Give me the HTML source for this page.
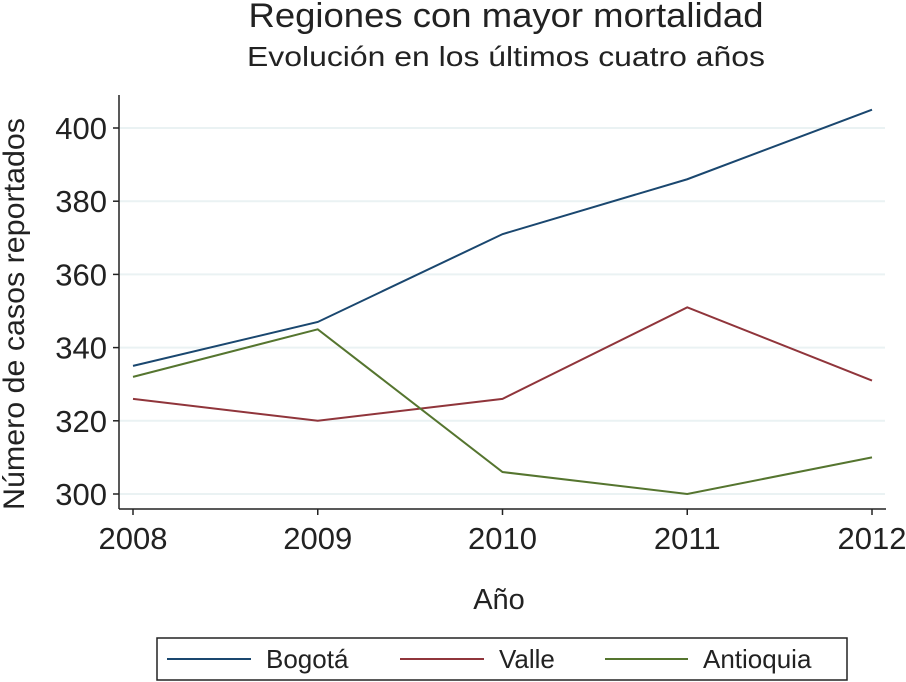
<!DOCTYPE html>
<html><head><meta charset="utf-8"><style>
html,body{margin:0;padding:0;background:#fff;}
svg{display:block;font-family:"Liberation Sans",sans-serif;}
</style></head><body>
<svg id="chart" width="906" height="682" viewBox="0 0 906 682">
<text x="506" y="27" font-size="34" text-anchor="middle" fill="#222" textLength="515" lengthAdjust="spacingAndGlyphs">Regiones con mayor mortalidad</text>
<text x="506" y="66" font-size="28" text-anchor="middle" fill="#222" textLength="518" lengthAdjust="spacingAndGlyphs">Evolución en los últimos cuatro años</text>
<g id="grid"></g>
<g id="axes"></g>
<g id="series"></g>
<text x="499" y="609" font-size="29" text-anchor="middle" fill="#222">Año</text>
<text transform="translate(24,314) rotate(-90)" font-size="30" text-anchor="middle" fill="#222" textLength="392" lengthAdjust="spacingAndGlyphs">Número de casos reportados</text>
<g>
<rect x="157" y="638" width="690" height="42" fill="#fff" stroke="#222" stroke-width="1.5"/>
<g><line x1="167" y1="659" x2="251" y2="659" stroke="#1a476f" stroke-width="2"/><text x="266" y="668" font-size="26" fill="#222">Bogotá</text></g>
<g><line x1="400" y1="659" x2="484" y2="659" stroke="#90353b" stroke-width="2"/><text x="499" y="668" font-size="26" fill="#222">Valle</text></g>
<g><line x1="605" y1="659" x2="688" y2="659" stroke="#55752f" stroke-width="2"/><text x="703" y="668" font-size="26" fill="#222">Antioquia</text></g>
</g>
</svg>
<script>
const years = [2008, 2009, 2010, 2011, 2012];
const bogota = [335, 347, 371, 386, 405];
const valle = [326, 320, 326, 351, 331];
const antioquia = [332, 345, 306, 300, 310];
const yTicks = [300, 320, 340, 360, 380, 400];
const seriesNames = ["bogota", "valle", "antioquia"];
const colors = ["#1a476f", "#90353b", "#55752f"];

const NS = "http://www.w3.org/2000/svg";
function xs(v){ return 133 + (v - 2008) * (872 - 133) / 4; }
function ys(v){ return 494 - (v - 300) * 3.66; }
function mk(tag, attrs, parent){ const e = document.createElementNS(NS, tag); for (const k in attrs) e.setAttribute(k, attrs[k]); parent.appendChild(e); return e; }

const grid = document.getElementById("grid"), axes = document.getElementById("axes"), series = document.getElementById("series");
yTicks.forEach(t => {
  const g = mk("line", {x1:120, x2:885, y1:ys(t), y2:ys(t), stroke:"#eaf2f3", "stroke-width":2}, grid);
  
  
  const tk = mk("line", {x1:113, x2:119, y1:ys(t), y2:ys(t), stroke:"#222", "stroke-width":1.5}, axes);
  
  
  const lb = mk("text", {x:107, y:ys(t) + 11, "font-size":31, "text-anchor":"end", fill:"#222"}, axes);
  lb.textContent = t;
  
  
});
years.forEach(yr => {
  const tk = mk("line", {x1:xs(yr), x2:xs(yr), y1:509, y2:515, stroke:"#222", "stroke-width":1.5}, axes);
  
  
  const lb = mk("text", {x:xs(yr), y:549, "font-size":31, "text-anchor":"middle", fill:"#222"}, axes);
  lb.textContent = yr;
  
  
});
const ya = mk("line", {x1:119, x2:119, y1:95, y2:509, stroke:"#222", "stroke-width":1.5}, axes);


const xa = mk("line", {x1:119, x2:886, y1:509, y2:509, stroke:"#222", "stroke-width":1.5}, axes);



[bogota, valle, antioquia].forEach((vals, i) => {
  const pts = vals.map((v, j) => xs(years[j]) + "," + ys(v)).join(" ");
  const pl = mk("polyline", {points:pts, fill:"none", stroke:colors[i], "stroke-width":2}, series);
  
  
});
</script>
</body></html>
